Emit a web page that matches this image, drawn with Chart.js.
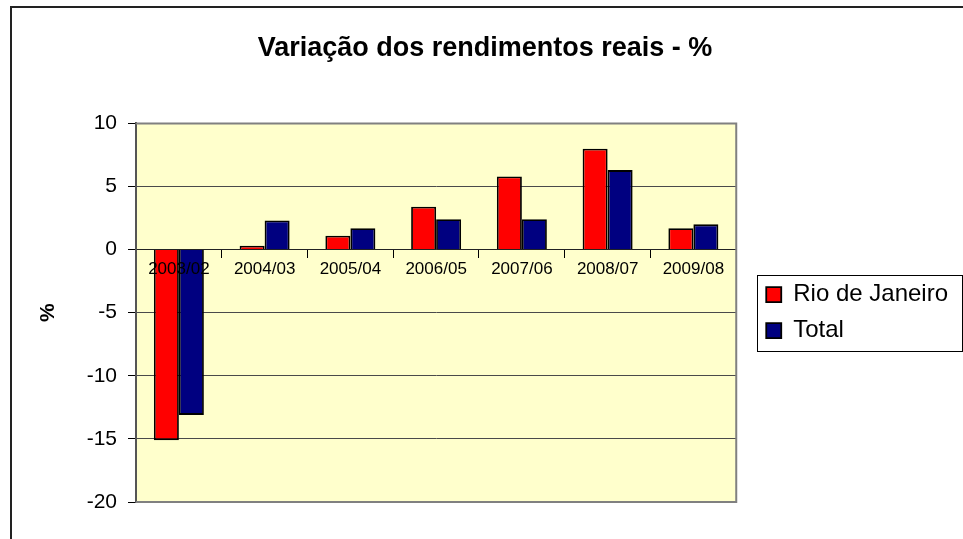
<!DOCTYPE html>
<html>
<head>
<meta charset="utf-8">
<script src="https://cdn.jsdelivr.net/npm/chart.js@4/dist/chart.umd.min.js"></script>
<style>
  html, body { margin: 0; padding: 0; background: #fff; overflow: hidden; }
  #frame { position: absolute; left: 10px; top: 6px; width: 1000px; height: 600px; border: 2px solid #222; }
  #wrap { position: absolute; left: 0; top: 0; width: 963px; height: 539px; }
</style>
</head>
<body>
<div id="frame"></div>
<div id="wrap"><canvas id="chart"></canvas></div>
<script>
// dados
const categories = ["2003/02", "2004/03", "2005/04", "2006/05", "2007/06", "2008/07", "2009/08"];
const rioValues = [-15.1, 0.3, 1.1, 3.4, 5.8, 8.0, 1.7];
const totalValues = [-13.1, 2.3, 1.7, 2.4, 2.4, 6.3, 2.0];
const seriesNames = ["Rio de Janeiro", "Total"];
const yMin = -20, yMax = 10, yStep = 5;

Chart.defaults.font.family = "'Liberation Sans', Arial, sans-serif";
Chart.defaults.color = "#000";

// fundo amarelo + moldura cinza da área do gráfico, caixa da legenda
const plotFrame = {
    id: "plotFrame",
    beforeDraw(chart) {
        const {ctx, chartArea: a} = chart;
        ctx.save();
        ctx.fillStyle = "#FFFFCC";
        ctx.fillRect(a.left, a.top, a.right - a.left, a.bottom - a.top);
        ctx.restore();
    },
    beforeDatasetsDraw(chart) {
        const {ctx, chartArea: a} = chart;
        ctx.save();
        ctx.strokeStyle = "#808080";
        ctx.lineWidth = 2;
        ctx.beginPath();
        ctx.moveTo(a.left, a.top);
        ctx.lineTo(a.right, a.top);
        ctx.lineTo(a.right, a.bottom);
        ctx.lineTo(a.left, a.bottom);
        ctx.stroke();
        ctx.restore();
    },
    afterDraw(chart) {
        const boxes = chart.legend.legendHitBoxes;
        if (!boxes || !boxes.length) return;
        const first = boxes[0], last = boxes[boxes.length - 1];
        const ctx = chart.ctx;
        ctx.save();
        ctx.strokeStyle = "#000";
        ctx.lineWidth = 1;
        const left = first.left - 9, top = first.top - 8;
        const right = Math.max(...boxes.map(b => b.left + b.width)) + 14;
        const bottom = last.top + last.height + 7.5;
        ctx.strokeRect(Math.round(left) + 0.5, Math.round(top) + 0.5, Math.round(right - left), Math.round(bottom - top));
        ctx.restore();
    }
};

new Chart(document.getElementById("chart"), {
    type: "bar",
    data: {
        labels: categories,
        datasets: [{
            label: seriesNames[0],
            data: rioValues,
            backgroundColor: "#FF0000",
            borderColor: "#000",
            borderWidth: 1.8,
            categoryPercentage: 0.583,
            barPercentage: 1
        }, {
            label: seriesNames[1],
            data: totalValues,
            backgroundColor: "#000080",
            borderColor: "#000",
            borderWidth: 1.8,
            categoryPercentage: 0.583,
            barPercentage: 1
        }]
    },
    options: {
        responsive: true,
        maintainAspectRatio: false,
        animation: false,
        layout: { padding: { left: 12, right: 5, top: 0, bottom: 37 } },
        plugins: {
            title: {
                display: true,
                text: "Variação dos rendimentos reais - %",
                font: { size: 27, weight: "bold" },
                color: "#000",
                padding: { top: 32, bottom: 59 }
            },
            legend: {
                display: true,
                position: "right",
                fullSize: false,
                maxWidth: 215,
                labels: {
                    font: { size: 24 },
                    color: "#000",
                    boxWidth: 15,
                    boxHeight: 15,
                    padding: 12
                }
            },
            tooltip: { enabled: false }
        },
        scales: {
            x: {
                position: { y: 0 },
                grid: { display: true, drawOnChartArea: false, drawTicks: true, tickLength: 8, tickColor: "#000", offset: true },
                border: { display: true, color: "#222", width: 1 },
                ticks: { z: 1, font: { size: 17 }, color: "#000", padding: 2, maxRotation: 0, autoSkip: false }
            },
            y: {
                min: yMin,
                max: yMax,
                ticks: { stepSize: yStep, font: { size: 21 }, color: "#000", padding: 11 },
                grid: { color: "#4a4a4a", lineWidth: 1, tickLength: 8, tickColor: "#000" },
                border: { display: true, color: "#555", width: 2 },
                title: { display: true, text: "%", font: { size: 21, weight: "bold" }, color: "#000", padding: { top: 24, bottom: 0 } },
                afterFit(scale) { scale.width = 124; }
            },
            gap: {
                type: "linear",
                position: "right",
                display: true,
                grid: { display: false },
                border: { display: false },
                ticks: { display: false },
                afterFit(scale) { scale.width = 18; }
            }
        }
    },
    plugins: [plotFrame]
});
</script>
</body>
</html>
